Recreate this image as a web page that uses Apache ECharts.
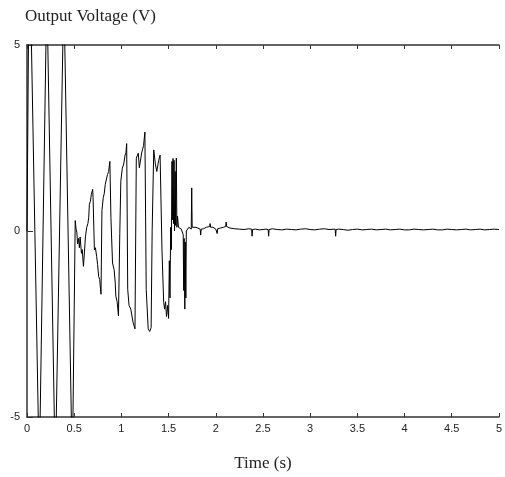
<!DOCTYPE html>
<html>
<head>
<meta charset="utf-8">
<script src="https://cdn.jsdelivr.net/npm/echarts@6/dist/echarts.min.js"></script>
<style>
html,body{margin:0;padding:0;background:#fff;width:100%;height:100%;overflow:hidden;}
#c{width:100vw;height:100vh;}
</style>
</head>
<body>
<div id="c"></div>
<script>
// Axis ticks
var xTicks = [0, 0.5, 1, 1.5, 2, 2.5, 3, 3.5, 4, 4.5, 5];
var yTicks = [-5, 0, 5];

// Large initial oscillation (clipped at +-5)
var burstT = [0, 0.02, 0.04, 0.13, 0.21, 0.30, 0.39, 0.48];
var burstV = [0, 6.5, 6.0, -6.5, 6.5, -6.5, 6.5, -6.5];

// Growing oscillation 0.5 - 1.45 s
var growT = [0.511, 0.52, 0.528, 0.536, 0.546, 0.555, 0.563, 0.577, 0.585, 0.598, 0.605, 0.619, 0.633, 0.645, 0.654, 0.661, 0.672, 0.682, 0.696, 0.70,
  0.714, 0.725, 0.738, 0.748, 0.759, 0.77, 0.784, 0.794, 0.808, 0.818, 0.829, 0.84, 0.853, 0.865, 0.878, 0.889, 0.906, 0.915, 0.923, 0.935,
  0.941, 0.955, 0.969, 0.983, 0.994, 1.01, 1.025, 1.039, 1.048, 1.056, 1.067, 1.081, 1.10, 1.123, 1.144, 1.158, 1.179, 1.19, 1.20, 1.215,
  1.235, 1.249, 1.263, 1.284, 1.30, 1.315, 1.326, 1.343, 1.36, 1.375, 1.395, 1.41, 1.43, 1.448];
var growV = [0.28, 0.05, -0.03, -0.35, -0.2, -0.45, -0.16, -0.6, -0.5, -0.95, -0.7, -0.16, 0.1, 0.2, 0.37, 0.72, 0.8, 0.99, 1.12, 0.9,
  -0.51, -0.45, -0.69, -0.9, -1.22, -1.3, -1.7, 0.55, 0.9, 1.0, 1.25, 1.3, 1.52, 1.6, 1.87, 0.37, -0.86, -0.9, -1.04, -1.4,
  -1.75, -1.9, -2.28, -0.07, 1.34, 1.69, 1.8, 2.04, 2.1, 2.35, -1.57, -2.0, -2.1, -2.45, -2.63, 1.96, 2.09, 1.7, 1.65, 2.1,
  2.3, 2.66, -1.57, -2.63, -2.7, -2.6, 0.02, 2.18, 1.8, 1.6, 1.9, 2.04, -0.51, -1.92];

// Chattering / settling 1.45 - 2.2 s
var settleT = [1.458, 1.468, 1.478, 1.49, 1.50, 1.508, 1.515, 1.522, 1.53, 1.536, 1.54, 1.547, 1.552, 1.558, 1.563, 1.57, 1.575, 1.582, 1.588, 1.595,
  1.605, 1.62, 1.635, 1.648, 1.655, 1.66, 1.665, 1.672, 1.677, 1.683, 1.688, 1.70, 1.715, 1.73, 1.74, 1.745, 1.75, 1.77, 1.79, 1.81,
  1.835, 1.84, 1.845, 1.87, 1.90, 1.935, 1.94, 1.945, 1.97, 2.0, 2.015, 2.02, 2.05, 2.08, 2.105, 2.11, 2.115, 2.15, 2.2];
var settleV = [-2.1, -1.9, -2.3, -2.0, -2.35, -0.8, -1.8, 0.1, -0.5, 1.87, 0.3, 1.95, 0.2, 1.9, 0.0, 1.6, 0.15, 1.96, 0.1, 0.4,
  0.1, 0.15, 0.05, 0.1, -0.1, -1.6, -0.2, -2.1, -0.3, -1.8, 0.0, 0.05, 0.1, 0.1, 0.05, 1.16, 0.1, 0.12, 0.1, 0.08,
  0.05, -0.11, 0.05, 0.06, 0.1, 0.12, 0.2, 0.1, 0.1, 0.05, -0.07, 0.06, 0.08, 0.1, 0.12, 0.24, 0.12, 0.08, 0.06];

// Steady-state ripple 2.25 - 5 s
var tailT = [2.25, 2.30, 2.35, 2.38, 2.385, 2.39, 2.42, 2.46, 2.50, 2.53, 2.555, 2.56, 2.565, 2.60, 2.65, 2.70, 2.75, 2.80, 2.85, 2.90,
  2.95, 3.00, 3.05, 3.10, 3.15, 3.20, 3.265, 3.27, 3.275, 3.30, 3.35, 3.40, 3.45, 3.50, 3.55, 3.60, 3.65, 3.70, 3.75, 3.80,
  3.85, 3.90, 3.95, 4.00, 4.05, 4.10, 4.15, 4.20, 4.25, 4.30, 4.35, 4.40, 4.45, 4.50, 4.55, 4.60, 4.65, 4.70, 4.75, 4.80,
  4.85, 4.90, 4.95, 5.00];
var tailV = [0.05, 0.04, 0.06, 0.05, -0.14, 0.04, 0.05, 0.03, 0.04, 0.05, 0.04, -0.14, 0.04, 0.06, 0.04, 0.03, 0.05, 0.04, 0.03, 0.05,
  0.06, 0.04, 0.03, 0.05, 0.06, 0.04, 0.05, -0.14, 0.04, 0.05, 0.04, 0.02, 0.04, 0.05, 0.03, 0.04, 0.05, 0.03, 0.04, 0.05,
  0.03, 0.04, 0.05, 0.03, 0.03, 0.05, 0.04, 0.03, 0.04, 0.05, 0.03, 0.03, 0.05, 0.04, 0.03, 0.04, 0.05, 0.03, 0.04, 0.05,
  0.03, 0.04, 0.05, 0.04];

function pairs(ts, vs) { return ts.map(function (t, i) { return [t, vs[i]]; }); }
var data = [].concat(pairs(burstT, burstV), pairs(growT, growV), pairs(settleT, settleV), pairs(tailT, tailV));

var axisColor = '#333';
var chart = echarts.init(document.getElementById('c'), null, {renderer: 'canvas'});
chart.setOption({
  animation: false,
  backgroundColor: '#fff',
  grid: {left: 27, right: 1, top: 45, bottom: 54, containLabel: false},
  xAxis: [{
    type: 'value', min: xTicks[0], max: xTicks[xTicks.length - 1], interval: 0.5,
    name: 'Time (s)', nameLocation: 'middle', nameGap: 38,
    nameTextStyle: {fontFamily: 'Liberation Serif', fontSize: 17, color: '#222', verticalAlign: 'top'},
    axisLine: {show: true, onZero: false, lineStyle: {color: axisColor, width: 1.5}},
    axisTick: {show: true, inside: true, length: 4, lineStyle: {color: axisColor}},
    axisLabel: {show: true, margin: 6, fontFamily: 'Liberation Sans', fontSize: 11, color: '#222', showMaxLabel: true, showMinLabel: true,
      formatter: function (v) { return String(v); }},
    splitLine: {show: false}
  }, {
    type: 'value', position: 'top', min: xTicks[0], max: xTicks[xTicks.length - 1], interval: 0.5,
    axisLine: {show: true, onZero: false, lineStyle: {color: axisColor, width: 1.5}},
    axisTick: {show: true, inside: true, length: 4, lineStyle: {color: axisColor}},
    axisLabel: {show: false},
    splitLine: {show: false}
  }],
  yAxis: {
    type: 'value', min: yTicks[0], max: yTicks[yTicks.length - 1], interval: 5,
    name: 'Output Voltage (V)', nameLocation: 'end', nameGap: 28,
    nameTextStyle: {fontFamily: 'Liberation Serif', fontSize: 17, color: '#222', align: 'left', verticalAlign: 'middle', padding: [0, 0, 0, -2]},
    axisLine: {show: true, onZero: false, lineStyle: {color: axisColor, width: 1.5}},
    axisTick: {show: true, inside: true, length: 6, lineStyle: {color: axisColor}},
    axisLabel: {show: true, margin: 7, fontFamily: 'Liberation Sans', fontSize: 11, color: '#222'},
    splitLine: {show: false}
  },
  series: [{
    type: 'line', xAxisIndex: 0, data: data, symbol: 'none', clip: true,
    lineStyle: {color: '#000', width: 1}
  }]
});
</script>
</body>
</html>
